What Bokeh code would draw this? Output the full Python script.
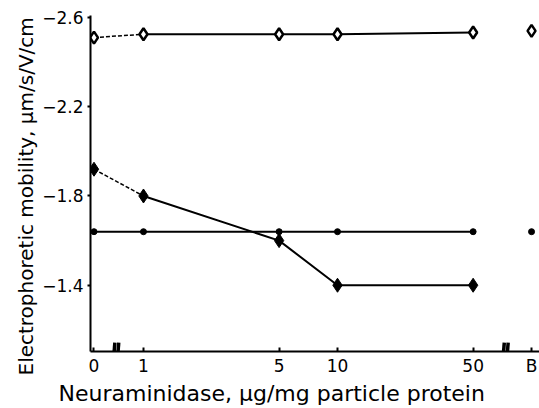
import math
from bokeh.plotting import figure
from bokeh.models import Range1d, FixedTicker, Title
from bokeh.embed import file_html
from bokeh.resources import INLINE

# ---- data ----
tick_labels = ["0", "1", "5", "10", "50", "B"]
doses = [1, 5, 10, 50]            # µg/mg, plotted on a log axis
zero_pos = -0.255                  # axis position of the "0" dose (broken axis)
b_pos = 2.0                        # axis position of "B"

# series A: open diamonds
a_zero, a_doses, a_b = -2.51, [-2.525, -2.525, -2.525, -2.533], -2.54
# series B: filled diamonds
b_zero, b_doses = -1.92, [-1.80, -1.60, -1.40, -1.40]
# series C: small filled points
c_zero, c_doses, c_b = -1.64, [-1.64, -1.64, -1.64, -1.64], -1.64

y_ticks = [-1.4, -1.8, -2.2, -2.6]

FONT = "DejaVu Sans"

xd = [math.log10(d) for d in doses]
tick_pos = [zero_pos] + xd + [b_pos]

p = figure(width=539, height=405, output_backend="svg", toolbar_location=None,
           x_range=Range1d(-0.273, 2.041), y_range=Range1d(-1.103, -2.609),
           min_border_left=90, min_border_top=15, min_border_bottom=50, min_border_right=0)
p.outline_line_color = None
p.grid.grid_line_color = None
p.background_fill_color = "white"

# series A
p.line([zero_pos, xd[0]], [a_zero, a_doses[0]], line_color="black", line_width=1.5, line_dash="4 2")
p.line(xd, a_doses, line_color="black", line_width=2)
p.scatter([zero_pos] + xd + [b_pos], [a_zero] + a_doses + [a_b], marker="diamond",
          size=12, fill_color="white", line_color="black", line_width=2.5)

# series B
p.line([zero_pos, xd[0]], [b_zero, b_doses[0]], line_color="black", line_width=1.5, line_dash="4 2")
p.line(xd, b_doses, line_color="black", line_width=2)
p.scatter([zero_pos] + xd, [b_zero] + b_doses, marker="diamond",
          size=14, fill_color="black", line_color="black")

# series C
p.line([zero_pos] + xd, [c_zero] + c_doses, line_color="black", line_width=2)
p.scatter([zero_pos] + xd + [b_pos], [c_zero] + c_doses + [c_b], marker="circle",
          size=6, fill_color="black", line_color="black")

# axis break marks on the x axis
y0 = p.y_range.start
br1 = (zero_pos + xd[0]) / 2 - 0.01
br2 = (xd[-1] + b_pos) / 2 + 0.02
for bx in (br1, br2):
    p.segment(x0=[bx - 0.017, bx + 0.003], y0=[y0 + 0.04, y0 + 0.04],
              x1=[bx - 0.010, bx + 0.010], y1=[y0 - 0.04, y0 - 0.04],
              line_color="black", line_width=3.5)

# axes
p.xaxis.ticker = FixedTicker(ticks=tick_pos)
p.xaxis.major_label_overrides = {tp: lab for tp, lab in zip(tick_pos, tick_labels)}
p.xaxis.major_tick_in = 4
p.xaxis.major_tick_out = 0
p.xaxis.minor_tick_line_color = None

p.yaxis.ticker = FixedTicker(ticks=y_ticks)
p.yaxis.major_label_overrides = {t: "\u2212" + f"{abs(t):.1f}" for t in y_ticks}
p.yaxis.major_tick_in = 0
p.yaxis.major_tick_out = 3
p.yaxis.minor_tick_line_color = None

for ax in (p.xaxis[0], p.yaxis[0]):
    ax.axis_line_color = "black"
    ax.axis_line_width = 2
    ax.major_tick_line_width = 2
    ax.major_label_text_font = FONT
    ax.major_label_text_font_size = "17px"
    ax.major_label_text_color = "black"
p.xaxis.major_label_standoff = 4
p.yaxis.major_label_standoff = 4

p.add_layout(Title(text="Electrophoretic mobility, \u03bcm/s/V/cm", align="left", offset=-24,
                   text_font=FONT, text_font_size="20px", text_font_style="normal",
                   text_color="black", standoff=4), "left")
p.add_layout(Title(text="Neuraminidase, \u03bcg/mg particle protein", align="left", offset=-32,
                   text_font=FONT, text_font_size="22px", text_font_style="normal",
                   text_color="black", standoff=0), "below")

open("out.html", "w").write(file_html(p, INLINE))
